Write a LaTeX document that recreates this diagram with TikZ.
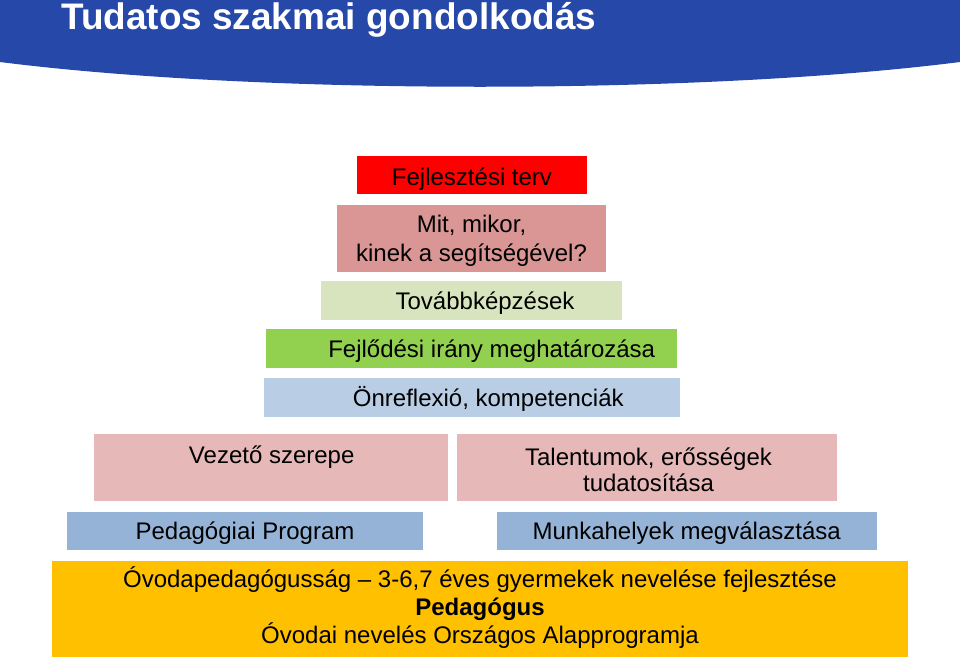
\documentclass[tikz,border=0pt]{standalone}
\usepackage{fontspec}
\setmainfont{Liberation Sans}
\usepackage{xcolor}
\usepackage{tikz}
\usetikzlibrary{positioning}
\definecolor{tszhead}{HTML}{2649A9}
\definecolor{tszred}{HTML}{FF0000}
\definecolor{tszrose}{HTML}{D99694}
\definecolor{tszsage}{HTML}{D7E4BD}
\definecolor{tszgreen}{HTML}{92D050}
\definecolor{tszsky}{HTML}{B9CDE5}
\definecolor{tszpink}{HTML}{E6B9B8}
\definecolor{tszblue}{HTML}{95B3D7}
\definecolor{tszgold}{HTML}{FFC000}
\tikzset{
  bar/.style={rectangle,inner sep=0pt,draw=none},
  lbl/.style={anchor=base,align=center,inner sep=0pt,font=\fontsize{18}{21.4}\selectfont},
}

\begin{document}
\begin{tikzpicture}[x=0.75pt,y=-0.75pt]
  \useasboundingbox (0,0) rectangle (960,661);
  \fill[tszhead] (0,0) -- (960,0) -- (960,62) .. controls (700,95) and (260,95) .. (0,62) -- cycle;
  \node[anchor=base west,inner sep=0pt,text=white,font=\fontsize{27.7}{30}\selectfont\bfseries] (title) at (61,29.5) {Tudatos szakmai gondolkodás};
  % piramis
  \node[bar,fill=tszred,minimum width=172.5pt,minimum height=28.5pt] (terv) at (472,175) {};
  \node[bar,fill=tszrose,minimum width=201.75pt,minimum height=50.25pt] (mit) at (471.5,238.5) {};
  \node[bar,fill=tszsage,minimum width=225.75pt,minimum height=29.25pt] (tovabb) at (471.5,300.5) {};
  \node[bar,fill=tszgreen,minimum width=308.25pt,minimum height=29.25pt] (irany) at (471.5,348.5) {};
  \node[bar,fill=tszsky,minimum width=312pt,minimum height=29.25pt] (onref) at (472,397.5) {};
  \node[bar,fill=tszpink,minimum width=265.5pt,minimum height=50.25pt] (vezeto) at (271,467.5) {};
  \node[bar,fill=tszpink,minimum width=285pt,minimum height=50.25pt] (talent) at (647,467.5) {};
  \node[bar,fill=tszblue,minimum width=267pt,minimum height=28.5pt] (pedprog) at (245,531) {};
  \node[bar,fill=tszblue,minimum width=285pt,minimum height=28.5pt] (munka) at (687,531) {};
  \node[bar,fill=tszgold,minimum width=642pt,minimum height=72pt] (alap) at (480,609) {};
  % feliratok
  \node[lbl] (terv-t) at (472,185) {Fejlesztési terv};
  \node[lbl] (mit-t) at (471.5,261.5) {Mit, mikor,\\kinek a segítségével?};
  \node[lbl] (tovabb-t) at (485,309) {Továbbképzések};
  \node[lbl] (irany-t) at (491.7,357) {Fejlődési irány meghatározása};
  \node[lbl] (onref-t) at (488.3,406) {Önreflexió, kompetenciák};
  \node[lbl] (vezeto-t) at (271.7,463) {Vezető szerepe};
  \node[lbl,font=\fontsize{18}{19.3}\selectfont] (talent-t) at (648.5,491.4) {Talentumok, erősségek\\tudatosítása};
  \node[lbl] (pedprog-t) at (245,539.3) {Pedagógiai Program};
  \node[lbl] (munka-t) at (686.7,539.3) {Munkahelyek megválasztása};
  \node[lbl,font=\fontsize{18}{21}\selectfont] (alap-t) at (480,643) {Óvodapedagógusság -- 3-6,7 éves gyermekek nevelése fejlesztése\\\textbf{Pedagógus}\\Óvodai nevelés Országos Alapprogramja};
\end{tikzpicture}
\end{document}
